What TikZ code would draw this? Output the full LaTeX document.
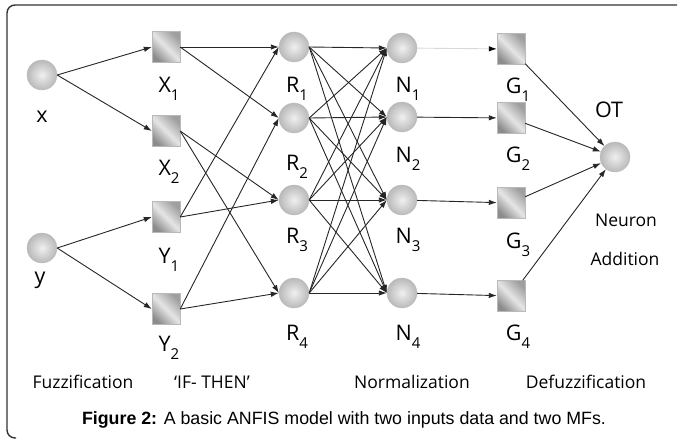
\documentclass[tikz,border=0pt]{standalone}
\usepackage{fontspec}
\setmainfont{Open Sans}
\newfontfamily\capfont{Liberation Sans}
\usetikzlibrary{arrows.meta,positioning}
\tikzstyle{neuron} = [circle, draw=gray!50, shading=radial,
    inner color=gray!12, outer color=gray!55,
    minimum size=30pt, inner sep=0pt]
\tikzstyle{mf} = [rectangle, draw=gray!55, left color=gray!75,
    right color=gray!90, middle color=gray!20, shading angle=-45,
    minimum width=28pt, minimum height=31pt, inner sep=0pt]
\tikzstyle{lbl} = [anchor=base, inner sep=0pt, font=\fontsize{21.5}{24}\selectfont]
\tikzstyle{layer} = [anchor=base, inner sep=0pt, font=\fontsize{17.5}{20}\selectfont]
\tikzstyle{link} = [-{Latex[length=8pt,width=5.5pt]}, black!85, line width=0.9pt]
\newcommand{\lsub}[1]{\raisebox{-8pt}{\fontsize{15}{15}\selectfont #1}}

\begin{document}
\begin{tikzpicture}[x=1pt, y=-1pt]
  \useasboundingbox (0,0) rectangle (678,440);
  % Frame
  \draw [black!80, line width=1.4pt, rounded corners=8pt]
    (677,5) -- (7,5) -- (7,438) -- (16,438);
  % Place nodes
  \node [neuron] (x) at (42,75) {};
  \node [neuron] (y) at (42,248) {};
  \node [mf] (X1) at (166,47) {};
  \node [mf] (X2) at (166,131) {};
  \node [mf] (Y1) at (166,217) {};
  \node [mf] (Y2) at (166,309) {};
  \node [neuron] (R1) at (294,47) {};
  \node [neuron] (R2) at (294,118) {};
  \node [neuron] (R3) at (294,200) {};
  \node [neuron] (R4) at (294,293) {};
  \node [neuron] (N1) at (402,48) {};
  \node [neuron] (N2) at (402,117) {};
  \node [neuron] (N3) at (402,200) {};
  \node [neuron] (N4) at (402,293) {};
  \node [mf] (G1) at (511,49) {};
  \node [mf] (G2) at (511,118) {};
  \node [mf] (G3) at (511,203) {};
  \node [mf] (G4) at (511,296) {};
  \node [neuron] (OT) at (615,157) {};
  % Labels
  \node [lbl] (lx) at (42,122) {x};
  \node [lbl] (ly) at (40,283) {y};
  \node [lbl] (lX1) at (169,92) {X\lsub{1}};
  \node [lbl] (lX2) at (169,175) {X\lsub{2}};
  \node [lbl] (lY1) at (169,263) {Y\lsub{1}};
  \node [lbl] (lY2) at (169,351) {Y\lsub{2}};
  \node [lbl] (lR1) at (297,92) {R\lsub{1}};
  \node [lbl] (lR2) at (297,170) {R\lsub{2}};
  \node [lbl] (lR3) at (297,243) {R\lsub{3}};
  \node [lbl] (lR4) at (297,340) {R\lsub{4}};
  \node [lbl] (lN1) at (408,92) {N\lsub{1}};
  \node [lbl] (lN2) at (408,162) {N\lsub{2}};
  \node [lbl] (lN3) at (408,243) {N\lsub{3}};
  \node [lbl] (lN4) at (408,340) {N\lsub{4}};
  \node [lbl] (lG1) at (518,93) {G\lsub{1}};
  \node [lbl] (lG2) at (518,162) {G\lsub{2}};
  \node [lbl] (lG3) at (518,248) {G\lsub{3}};
  \node [lbl] (lG4) at (518,340) {G\lsub{4}};
  \node [lbl] (lOT) at (609,117) {OT};
  \node [layer] (neuron) at (626,226) {Neuron};
  \node [layer] (addition) at (625,265) {Addition};
  \node [layer] (fuzz) at (83,388) {Fuzzification};
  \node [layer] (rules) at (212,388) {`IF- THEN'};
  \node [layer] (norm) at (412,388) {Normalization};
  \node [layer] (defuzz) at (586,388) {Defuzzification};
  \node [anchor=base, inner sep=0pt, font=\capfont\fontsize{17.8}{20}\selectfont]
    (caption) at (344,424)
    {\textbf{Figure 2:} A basic ANFIS model with two inputs data and two MFs.};
  % Draw edges
  \draw [link] (x.east) -- (X1.west);
  \draw [link] (x.east) -- (X2.west);
  \draw [link] (y.east) -- (Y1.west);
  \draw [link] (y.east) -- (Y2.west);
  \draw [link] (X1.east) -- (R1.west);
  \draw [link] (X1.east) -- (R2.west);
  \draw [link] (X2.east) -- (R3.west);
  \draw [link] (X2.east) -- (R4.west);
  \draw [link] (Y1.east) -- (R1.west);
  \draw [link] (Y1.east) -- (R3.west);
  \draw [link] (Y2.east) -- (R2.west);
  \draw [link] (Y2.east) -- (R4.west);
  \foreach \i in {1,...,4}
    \foreach \j in {1,...,4}
      \draw [link] (R\i.east) -- (N\j.west);
  \draw [link, gray!30, -{Latex[length=8pt,width=5.5pt,black]}] (N1) -- (G1);
  \draw [link] (N2) -- (G2);
  \draw [link] (N3) -- (G3);
  \draw [link] (N4) -- (G4);
  \draw [link] (G1) -- (OT);
  \draw [link] (G2) -- (OT);
  \draw [link] (G3) -- (OT);
  \draw [link] (G4) -- (OT);
\end{tikzpicture}
\end{document}
